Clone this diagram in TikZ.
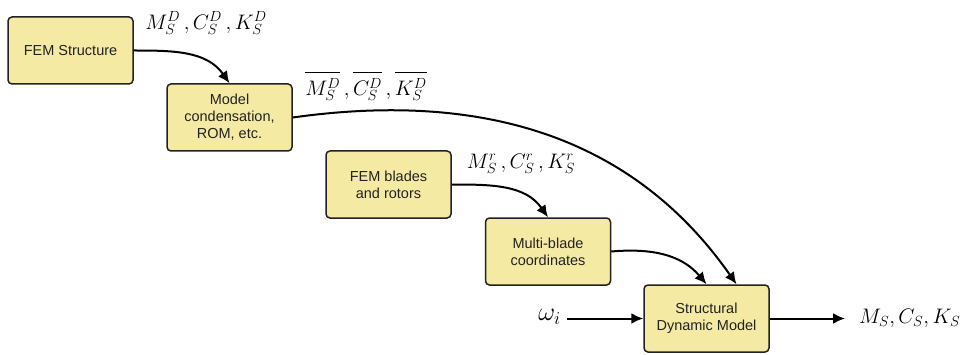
\RequirePackage{fix-cm}
\documentclass[tikz,border=0pt]{standalone}
\usepackage{fontspec}
\newfontfamily\boxfont{Liberation Sans}
\usetikzlibrary{arrows.meta}
\definecolor{boxfill}{RGB}{244,234,164}
\definecolor{boxline}{RGB}{34,34,34}
% overlined matrix with some head room above the superscript
\newcommand{\barmat}[2]{\overline{\rule{0pt}{22pt}#1^{#2}_S}}
\begin{document}
\begin{tikzpicture}[x=1pt,y=1pt,
  block/.style={draw=boxline, fill=boxfill, line width=1.5pt, rounded corners=4pt,
    minimum width=125pt, minimum height=67pt, align=center, text=boxline,
    font=\boxfont\fontsize{14.5}{17}\selectfont, inner sep=2pt},
  flow/.style={line width=2pt, -{Latex[length=12pt,width=11pt]}},
  mathlbl/.style={font=\fontsize{21}{25}\selectfont, inner sep=0pt}]
\useasboundingbox (0,0) rectangle (964,354);

% processing blocks
\node[block] (fem)    at (70.5,303.5) {FEM Structure};
\node[block] (cond)   at (229.5,236.5) {Model\\condensation,\\ROM, etc.};
\node[block] (blades) at (388.5,169.5) {FEM blades\\and rotors};
\node[block] (multi)  at (548,102.5) {Multi-blade\\coordinates};
\node[block] (sdm)    at (706.5,35.5) {Structural\\Dynamic Model};

% input / output terminals
\node[mathlbl, font=\fontsize{26}{30}\selectfont, anchor=east] (omega) at (561,37) {$\omega_i$};
\coordinate (win) at (567,35.5);
\coordinate (out) at (845,35.5);
\node[mathlbl, anchor=west] (msck) at (859,35.5) {$M_S, C_S, K_S$};

% matrix labels
\node[mathlbl] (lblD)    at (206,331) {$M^D_S\,, C^D_S\,, K^D_S$};
\node[mathlbl] (lblDbar) at (366,268) {$\barmat{M}{D}\,, \barmat{C}{D}\,, \barmat{K}{D}$};
\node[mathlbl] (lblr)    at (521,190) {$M^r_S\,, C^r_S\,, K^r_S$};

% connectors
\draw[flow] (fem.east) to[out=0,in=125] (cond.north);
\draw[flow] (cond.east) to[out=8,in=125] ([xshift=30pt]sdm.north);
\draw[flow] (blades.east) to[out=0,in=125] (multi.north);
\draw[flow] (multi.east) to[out=5,in=130] (sdm.north);
\draw[flow] (win) -- (sdm.west);
\draw[flow] (sdm.east) -- (out);
\end{tikzpicture}
\end{document}
